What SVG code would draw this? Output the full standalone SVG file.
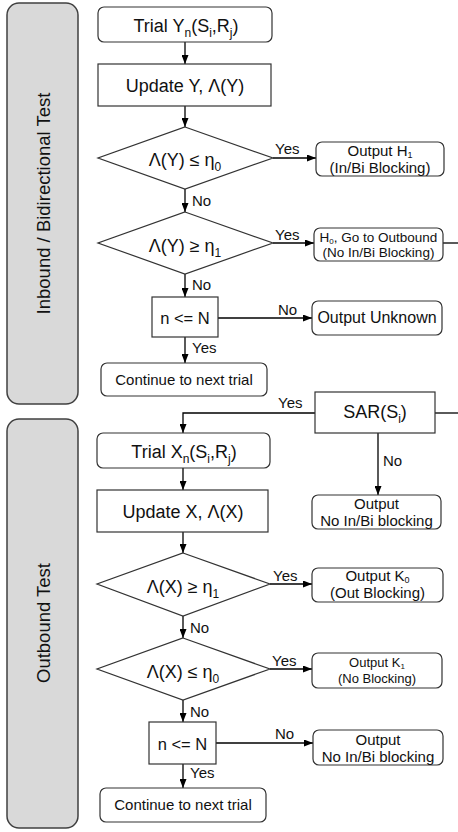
<svg xmlns="http://www.w3.org/2000/svg" width="458" height="832" viewBox="0 0 458 832">
<defs>
<marker id="ah" markerUnits="userSpaceOnUse" markerWidth="9" markerHeight="7" refX="9" refY="3.5" orient="auto"><path d="M0,0 L9,3.5 L0,7 z" fill="#000"/></marker>
<style>
text{font-family:"Liberation Sans",Arial,sans-serif;fill:#111}
.panel{fill:#d9d9d9;stroke:#404040;stroke-width:1.5}
.box{fill:#fff;stroke:#333;stroke-width:1.2}
.c{stroke:#000;stroke-width:1.3;fill:none}
.a{marker-end:url(#ah)}
.big{font-size:18px;text-anchor:middle}
.vt{font-size:18.5px;text-anchor:middle}
.lb{font-size:15px}
.mid{text-anchor:middle}
</style>
</defs>
<g id="panel-inbound"><rect class="panel" x="7" y="3" width="71" height="401" rx="12"/><text class="vt" transform="translate(49.5,203.5) rotate(-90)">Inbound / Bidirectional Test</text></g>
<g id="panel-outbound"><rect class="panel" x="7" y="419" width="71" height="409" rx="12"/><text class="vt" transform="translate(49.5,623) rotate(-90)">Outbound Test</text></g>

<g id="connectors">
<path class="c a" d="M185,42 V64"/>
<path class="c a" d="M185,106 V127"/>
<path class="c a" d="M273,158 H316"/>
<path class="c a" d="M185,189 V212"/>
<path class="c a" d="M273,243 H314"/>
<path class="c" d="M443,243 H458"/>
<path class="c a" d="M185,274 V297"/>
<path class="c a" d="M218,318 H312"/>
<path class="c a" d="M185,337 V363"/>
<path class="c" d="M435,413 H458"/>
<path class="c a" d="M315,413 H183 V433"/>
<path class="c a" d="M378,433 V495"/>
<path class="c a" d="M183,468 V490"/>
<path class="c a" d="M183,532 V553"/>
<path class="c a" d="M270,584 H312"/>
<path class="c a" d="M183,616 V638"/>
<path class="c a" d="M270,669 H312"/>
<path class="c a" d="M183,700 V722"/>
<path class="c a" d="M216,743 H313"/>
<path class="c a" d="M183,764 V788"/>
<text class="lb" x="275" y="154">Yes</text>
<text class="lb" x="192" y="206">No</text>
<text class="lb" x="275" y="240">Yes</text>
<text class="lb" x="192" y="290">No</text>
<text class="lb" x="278" y="315">No</text>
<text class="lb" x="192" y="353">Yes</text>
<text class="lb" x="278" y="408">Yes</text>
<text class="lb" x="383" y="466">No</text>
<text class="lb" x="273" y="581">Yes</text>
<text class="lb" x="190" y="633">No</text>
<text class="lb" x="272" y="666">Yes</text>
<text class="lb" x="190" y="717">No</text>
<text class="lb" x="275" y="739">No</text>
<text class="lb" x="190" y="778">Yes</text>
</g>

<g id="trial-y"><rect class="box" x="98" y="7" width="174" height="35" rx="6"/><text class="big" x="186" y="32">Trial Y<tspan dy="5" font-size="12">n</tspan><tspan dy="-5">(S</tspan><tspan dy="5" font-size="12">i</tspan><tspan dy="-5">,R</tspan><tspan dy="5" font-size="12">j</tspan><tspan dy="-5">)</tspan></text></g>
<g id="update-y"><rect class="box" x="98" y="64" width="173" height="42"/><text class="big" x="185" y="92">Update Y, Λ(Y)</text></g>
<g id="dec-y-le"><polygon class="box" points="185,127 273,158 185,189 98,158"/><text class="big" x="185" y="166">Λ(Y) ≤ η<tspan dy="5" font-size="12">0</tspan></text></g>
<g id="out-h1"><rect class="box" x="316" y="142" width="128" height="34" rx="6"/><text class="mid" font-size="15" x="380" y="156">Output H<tspan dy="2" font-size="9">1</tspan></text><text class="mid" font-size="15" x="380" y="173">(In/Bi Blocking)</text></g>
<g id="dec-y-ge"><polygon class="box" points="185,212 273,243 185,274 98,243"/><text class="big" x="185" y="252">Λ(Y) ≥ η<tspan dy="5" font-size="12">1</tspan></text></g>
<g id="h0"><rect class="box" x="314" y="228" width="129" height="33" rx="6"/><text class="mid" font-size="13.5" x="378.5" y="242">H<tspan dy="2" font-size="8">0</tspan><tspan dy="-2">, Go to Outbound</tspan></text><text class="mid" font-size="13.5" x="378.5" y="257">(No In/Bi Blocking)</text></g>
<g id="n-le-n-1"><rect class="box" x="152" y="297" width="66" height="40"/><text class="mid" font-size="16.5" x="185" y="324">n &lt;= N</text></g>
<g id="out-unknown"><rect class="box" x="312" y="301" width="130" height="34" rx="6"/><text class="mid" font-size="16" x="377" y="323">Output Unknown</text></g>
<g id="continue-1"><rect class="box" x="101" y="363" width="166" height="33" rx="6"/><text class="mid" font-size="15" x="184" y="385">Continue to next trial</text></g>

<g id="sar"><rect class="box" x="315" y="392" width="120" height="41"/><text class="big" x="375" y="418">SAR(S<tspan dy="5" font-size="12">i</tspan><tspan dy="-5">)</tspan></text></g>
<g id="out-no-inbi-1"><rect class="box" x="312" y="495" width="129" height="34" rx="6"/><text class="mid" font-size="15" x="376.5" y="509">Output</text><text class="mid" font-size="15" x="376.5" y="526">No In/Bi blocking</text></g>
<g id="trial-x"><rect class="box" x="97" y="433" width="173" height="35" rx="6"/><text class="big" x="184" y="458">Trial X<tspan dy="5" font-size="12">n</tspan><tspan dy="-5">(S</tspan><tspan dy="5" font-size="12">i</tspan><tspan dy="-5">,R</tspan><tspan dy="5" font-size="12">j</tspan><tspan dy="-5">)</tspan></text></g>
<g id="update-x"><rect class="box" x="97" y="490" width="171" height="42"/><text class="big" x="183" y="518">Update X, Λ(X)</text></g>
<g id="dec-x-ge"><polygon class="box" points="183,553 270,584 183,616 97,584"/><text class="big" x="183" y="593">Λ(X) ≥ η<tspan dy="5" font-size="12">1</tspan></text></g>
<g id="out-k0"><rect class="box" x="312" y="568" width="131" height="34" rx="6"/><text class="mid" font-size="15" x="377.5" y="581">Output K<tspan dy="2" font-size="9">0</tspan></text><text class="mid" font-size="15" x="377.5" y="598">(Out Blocking)</text></g>
<g id="dec-x-le"><polygon class="box" points="183,638 270,669 183,700 97,669"/><text class="big" x="183" y="678">Λ(X) ≤ η<tspan dy="5" font-size="12">0</tspan></text></g>
<g id="out-k1"><rect class="box" x="312" y="653" width="130" height="35" rx="6"/><text class="mid" font-size="13" x="377" y="667">Output K<tspan dy="2" font-size="8">1</tspan></text><text class="mid" font-size="13" x="377" y="683">(No Blocking)</text></g>
<g id="n-le-n-2"><rect class="box" x="149" y="722" width="67" height="42"/><text class="mid" font-size="16.5" x="182.5" y="750">n &lt;= N</text></g>
<g id="out-no-inbi-2"><rect class="box" x="313" y="730" width="130" height="35" rx="6"/><text class="mid" font-size="15" x="378" y="745">Output</text><text class="mid" font-size="15" x="378" y="762">No In/Bi blocking</text></g>
<g id="continue-2"><rect class="box" x="100" y="788" width="166" height="34" rx="6"/><text class="mid" font-size="15" x="183" y="810">Continue to next trial</text></g>
</svg>
